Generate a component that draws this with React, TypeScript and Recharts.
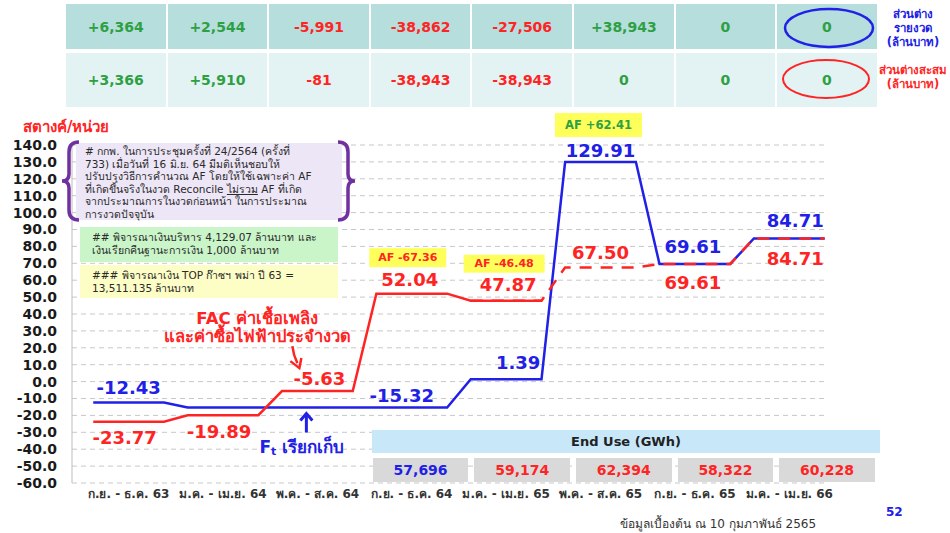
import React from "react";
import { LineChart, Line, XAxis, YAxis, CartesianGrid, ReferenceDot } from "recharts";

// ---- data ----
const periods = [
  "ก.ย. - ธ.ค. 63",
  "ม.ค. - เม.ย. 64",
  "พ.ค. - ส.ค. 64",
  "ก.ย. - ธ.ค. 64",
  "ม.ค. - เม.ย. 65",
  "พ.ค. - ส.ค. 65",
  "ก.ย. - ธ.ค. 65",
  "ม.ค. - เม.ย. 66",
];
const ftCharged = [-12.43, -15.32, -15.32, -15.32, 1.39, 129.91, 69.61, 84.71];
const facActual = [-23.77, -19.89, -5.63, 52.04, 47.87, null, null, null];
const facForecast = [null, null, null, null, 47.87, 67.5, 69.61, 84.71];
const diffPerPeriod = [6364, 2544, -5991, -38862, -27506, 38943, 0, 0];
const diffCumulative = [3366, 5910, -81, -38943, -38943, 0, 0, 0];
const endUse = [57696, 59174, 62394, 58322, 60228];
const endUseActual = [true, false, false, false, false];
const afAdjust = [
  { period: 3, text: "AF -67.36" },
  { period: 4, text: "AF -46.48" },
  { period: 5, text: "AF +62.41" },
];
const yTicks = [-60, -50, -40, -30, -20, -10, 0, 10, 20, 30, 40, 50, 60, 70, 80, 90, 100, 110, 120, 130, 140];

const BLUE = "#2020e6";
const RED = "#ff2424";
const GREEN = "#2ea043";
const FONT = "'DejaVu Sans', 'Noto Sans', sans-serif";

// each period holds its value flat, with a short ramp into the next one
const RAMP = 0.125;
const stepData = periods.flatMap((_, i) => [
  { x: i + RAMP, ft: ftCharged[i], fac: facActual[i], facF: facForecast[i] },
  { x: i + 1 - RAMP, ft: ftCharged[i], fac: facActual[i], facF: facForecast[i] },
]);

// where the value labels sit relative to the middle of each flat segment
const blueLabels = [
  { period: 0, dx: 0, dy: -15 },
  { period: 3, dx: -10, dy: -12 },
  { period: 4, dx: 12, dy: -17 },
  { period: 5, dx: 0, dy: -12 },
  { period: 6, dx: -2, dy: -17 },
  { period: 7, dx: 6, dy: -18 },
];
const redLabels = [
  { period: 0, dx: -4, dy: 16, src: facActual },
  { period: 1, dx: -4, dy: 16, src: facActual },
  { period: 2, dx: 2, dy: -13, src: facActual },
  { period: 3, dx: -2, dy: -14, src: facActual },
  { period: 4, dx: 2, dy: -16, src: facActual },
  { period: 5, dx: 0, dy: -15, src: facForecast },
  { period: 6, dx: -2, dy: 19, src: facForecast },
  { period: 7, dx: 6, dy: 20, src: facForecast },
];
const afBoxes: Record<number, { dx: number; dy: number; w: number; h: number; color: string; size: number }> = {
  3: { dx: -4, dy: -36, w: 77, h: 19, color: RED, size: 11 },
  4: { dx: -2, dy: -37, w: 81, h: 18, color: RED, size: 11 },
  5: { dx: -2, dy: -37, w: 87, h: 24, color: GREEN, size: 11.5 },
};

const fmtSigned = (v: number) => (v > 0 ? "+" : "") + v.toLocaleString("en-US");
const centerOf = (vb: any) => ({ cx: vb.x + vb.width / 2, cy: vb.y + vb.height / 2 });

const valueLabel = (text: string, color: string, dx: number, dy: number) => (props: any) => {
  const { cx, cy } = centerOf(props.viewBox);
  return (
    <text x={cx + dx} y={cy + dy} textAnchor="middle" dominantBaseline="central" fill={color}
      fontSize={18} fontWeight="bold" fontFamily={FONT}>
      {text}
    </text>
  );
};

const afLabel = (text: string, period: number) => (props: any) => {
  const { cx, cy } = centerOf(props.viewBox);
  const b = afBoxes[period];
  const x = cx + b.dx;
  const y = cy + b.dy;
  return (
    <g>
      <rect x={x - b.w / 2} y={y - b.h / 2} width={b.w} height={b.h} fill="#ffff5c" />
      <text x={x} y={y} textAnchor="middle" dominantBaseline="central" fill={b.color}
        fontSize={b.size} fontWeight="bold" fontFamily={FONT}>
        {text}
      </text>
    </g>
  );
};

// FAC callout hangs off the -5.63 step
const facCallout = (props: any) => {
  const { cx, cy } = centerOf(props.viewBox);
  return (
    <g fontFamily={FONT} fontWeight="bold" fill={RED} fontSize={16.5}>
      <text x={cx - 60} y={cy - 73} textAnchor="middle" dominantBaseline="central">FAC ค่าเชื้อเพลิง</text>
      <text x={cx - 60} y={cy - 55} textAnchor="middle" dominantBaseline="central">และค่าซื้อไฟฟ้าประจำงวด</text>
      <path d={`M${cx - 25},${cy - 45} Q${cx - 24},${cy - 36} ${cx - 20},${cy - 28}`} stroke={RED} strokeWidth={2.5} fill="none" />
      <path d={`M${cx - 27},${cy - 30} L${cx - 18},${cy - 23} L${cx - 16},${cy - 33}`} stroke={RED} strokeWidth={2.5} fill="none" />
    </g>
  );
};

// Ft callout sits under the -15.32 step
const ftCallout = (props: any) => {
  const { cx, cy } = centerOf(props.viewBox);
  return (
    <g fontFamily={FONT} fontWeight="bold" fill={BLUE}>
      <path d={`M${cx - 11},${cy + 25} L${cx - 11},${cy + 7}`} stroke={BLUE} strokeWidth={3} fill="none" />
      <path d={`M${cx - 17},${cy + 13} L${cx - 11},${cy + 6} L${cx - 5},${cy + 13}`} stroke={BLUE} strokeWidth={3} fill="none" />
      <text x={cx - 58} y={cy + 40} dominantBaseline="central" fontSize={17}>
        F<tspan fontSize={11} dy={4}>t</tspan>
        <tspan dy={-4}> เรียกเก็บ</tspan>
      </text>
    </g>
  );
};

const COL0 = 65;
const COLW = 101.6;

function TopTable() {
  const rows = [
    { vals: diffPerPeriod, top: 4, h: 45, bg: "#b5dedd" },
    { vals: diffCumulative, top: 53, h: 54, bg: "#e3f2f2" },
  ];
  return (
    <>
      {rows.map((r, ri) =>
        r.vals.map((v, i) => (
          <div key={ri + "-" + i} style={{
            position: "absolute", left: COL0 + i * COLW + 1, top: r.top, width: COLW - 2, height: r.h,
            background: r.bg, display: "flex", alignItems: "center", justifyContent: "center",
            fontFamily: FONT, fontWeight: "bold", fontSize: 14, color: v < 0 ? RED : GREEN,
          }}>
            {fmtSigned(v)}
          </div>
        ))
      )}
      <svg style={{ position: "absolute", left: 0, top: 0 }} width={950} height={110}>
        <ellipse cx={829} cy={28} rx={44} ry={19} stroke={BLUE} strokeWidth={2.5} fill="none" />
        <ellipse cx={826} cy={79} rx={43} ry={19} stroke={RED} strokeWidth={2} fill="none" />
      </svg>
      <div style={{ position: "absolute", left: 880, top: 7, width: 66, textAlign: "center", fontFamily: FONT,
        fontWeight: "bold", fontSize: 11.5, lineHeight: "14px", color: BLUE }}>
        ส่วนต่าง<br />รายงวด<br />(ล้านบาท)
      </div>
      <div style={{ position: "absolute", left: 872, top: 63, width: 82, textAlign: "center", fontFamily: FONT,
        fontWeight: "bold", fontSize: 11.5, lineHeight: "14px", color: RED, whiteSpace: "nowrap" }}>
        ส่วนต่างสะสม<br />(ล้านบาท)
      </div>
    </>
  );
}

function EndUseTable() {
  return (
    <>
      <div style={{ position: "absolute", left: 372, top: 430, width: 508, height: 23, background: "#c8e8fa",
        display: "flex", alignItems: "center", justifyContent: "center", fontFamily: FONT, fontWeight: "bold",
        fontSize: 13, color: "#222" }}>
        End Use (GWh)
      </div>
      {endUse.map((v, i) => (
        <div key={i} style={{
          position: "absolute", left: COL0 + (i + 3) * COLW + 3, top: 458, width: COLW - 6, height: 24,
          background: "#d9d9d9", display: "flex", alignItems: "center", justifyContent: "center",
          fontFamily: FONT, fontWeight: "bold", fontSize: 14, color: endUseActual[i] ? BLUE : RED,
        }}>
          {v.toLocaleString("en-US")}
        </div>
      ))}
    </>
  );
}

function Notes() {
  const box = { position: "absolute" as const, fontFamily: FONT, fontSize: 10.5, color: "#2a2a2a", lineHeight: "12.5px",
    boxSizing: "border-box" as const, padding: "2px 9px", whiteSpace: "nowrap" as const };
  return (
    <>
      <div style={{ ...box, left: 76, top: 143, width: 266, height: 77, background: "#ede6f6" }}>
        # กกพ. ในการประชุมครั้งที่ 24/2564 (ครั้งที่<br />
        733) เมื่อวันที่ 16 มิ.ย. 64 มีมติเห็นชอบให้<br />
        ปรับปรุงวิธีการคำนวณ AF โดยให้ใช้เฉพาะค่า AF<br />
        ที่เกิดขึ้นจริงในงวด Reconcile <u>ไม่รวม</u> AF ที่เกิด<br />
        จากประมาณการในงวดก่อนหน้า ในการประมาณ<br />
        การงวดปัจจุบัน
      </div>
      <svg style={{ position: "absolute", left: 0, top: 0 }} width={400} height={240}>
        <path d="M79,142 Q69,142 69,152 L69,174 Q69,181 62,181 Q69,181 69,188 L69,210 Q69,220 79,220"
          stroke="#7030a0" strokeWidth={3.5} fill="none" />
        <path d="M338,142 Q348,142 348,152 L348,174 Q348,181 355,181 Q348,181 348,188 L348,210 Q348,220 338,220"
          stroke="#7030a0" strokeWidth={3.5} fill="none" />
      </svg>
      <div style={{ ...box, left: 80, top: 227, width: 258, height: 35, background: "#c9f5c9", padding: "4px 12px" }}>
        ## พิจารณาเงินบริหาร 4,129.07 ล้านบาท และ<br />
        เงินเรียกคืนฐานะการเงิน 1,000 ล้านบาท
      </div>
      <div style={{ ...box, left: 80, top: 265, width: 258, height: 33, background: "#fdfdc6", padding: "4px 12px" }}>
        ### พิจารณาเงิน TOP ก๊าซฯ พม่า ปี 63 =<br />
        13,511.135 ล้านบาท
      </div>
    </>
  );
}

export default function App() {
  return (
    <div style={{ position: "absolute", left: 0, top: 0, width: 950, height: 533, background: "#fff", overflow: "hidden" }}>
      <TopTable />
      <div style={{ position: "absolute", left: 23, top: 115, fontFamily: FONT, fontWeight: "bold", fontSize: 15, color: RED }}>
        สตางค์/หน่วย
      </div>
      <div style={{ position: "absolute", left: 0, top: 0 }}>
        <LineChart width={950} height={533} data={stepData} margin={{ top: 145, right: 123, bottom: 0, left: 0 }}>
          <CartesianGrid vertical={false} stroke="#c8c8c8" strokeDasharray="5 4" />
          <XAxis type="number" dataKey="x" domain={[-0.1, 7.9]} ticks={periods.map((_, i) => i + 0.5)}
            tickFormatter={(v: number) => periods[Math.floor(v)]} interval={0} height={50}
            axisLine={false} tickLine={false} tickSize={0} tickMargin={6}
            tick={{ fill: "#333", fontSize: 12, fontWeight: "bold", fontFamily: FONT }} />
          <YAxis type="number" domain={[-60, 140]} ticks={yTicks} interval={0} width={72}
            tickFormatter={(v: number) => v.toFixed(1)} axisLine={{ stroke: "#bdbdbd" }} tickLine={false}
            tickSize={6} tickMargin={9}
            tick={{ fill: "#1a1a1a", fontSize: 14, fontWeight: "bold", fontFamily: FONT }} />
          <Line dataKey="ft" type="linear" stroke={BLUE} strokeWidth={2.5} dot={false} isAnimationActive={false} />
          <Line dataKey="fac" type="linear" stroke={RED} strokeWidth={2.5} dot={false} isAnimationActive={false} />
          <Line dataKey="facF" type="linear" stroke={RED} strokeWidth={2.5} strokeDasharray="12 9" dot={false}
            isAnimationActive={false} />
          {blueLabels.map((l) => (
            <ReferenceDot key={"b" + l.period} x={l.period + 0.5} y={ftCharged[l.period]} r={0} stroke="none"
              label={valueLabel(ftCharged[l.period].toFixed(2), BLUE, l.dx, l.dy)} />
          ))}
          {redLabels.map((l) => (
            <ReferenceDot key={"r" + l.period} x={l.period + 0.5} y={l.src[l.period] as number} r={0} stroke="none"
              label={valueLabel((l.src[l.period] as number).toFixed(2), RED, l.dx, l.dy)} />
          ))}
          {afAdjust.map((a) => (
            <ReferenceDot key={"af" + a.period} x={a.period + 0.5}
              y={(a.period === 5 ? ftCharged[a.period] : facActual[a.period]) as number} r={0} stroke="none"
              label={afLabel(a.text, a.period)} />
          ))}
          <ReferenceDot x={2.5} y={facActual[2] as number} r={0} stroke="none" label={facCallout} />
          <ReferenceDot x={2.5} y={ftCharged[2]} r={0} stroke="none" label={ftCallout} />
        </LineChart>
      </div>
      <Notes />
      <EndUseTable />
      <div style={{ position: "absolute", left: 886, top: 505, fontFamily: FONT, fontWeight: "bold", fontSize: 12, color: BLUE }}>
        52
      </div>
      <div style={{ position: "absolute", left: 620, top: 514, fontFamily: FONT, fontSize: 12, color: "#333" }}>
        ข้อมูลเบื้องต้น ณ 10 กุมภาพันธ์ 2565
      </div>
    </div>
  );
}
